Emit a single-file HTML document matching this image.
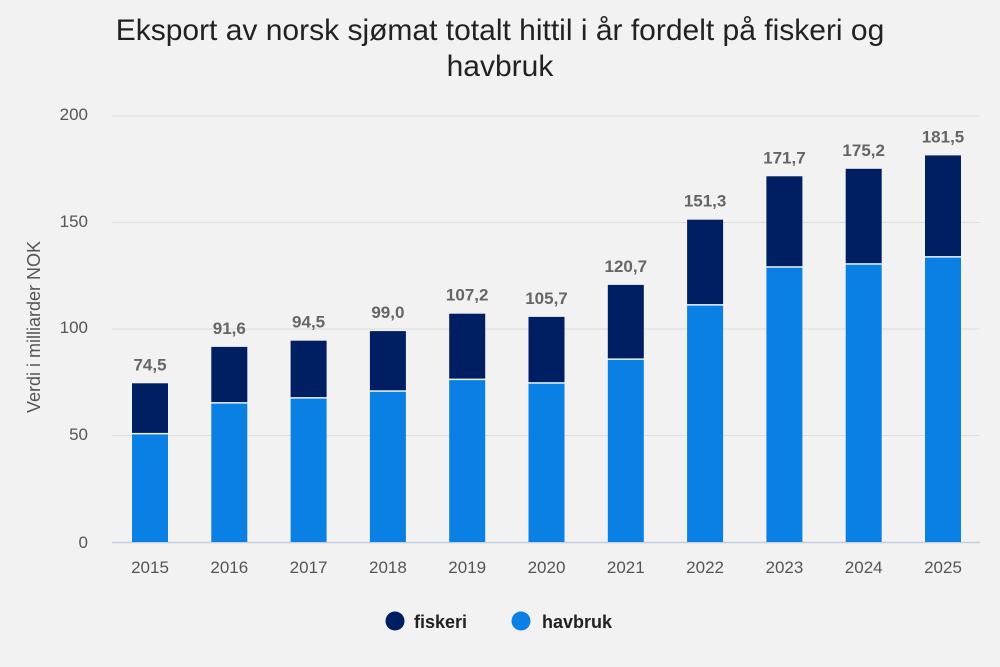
<!DOCTYPE html>
<html><head><style>body{margin:0;background:#f1f2f1;}svg{display:block}</style></head>
<body>
<svg width="1000" height="667" viewBox="0 0 1000 667" xmlns="http://www.w3.org/2000/svg" font-family="Liberation Sans, Arial, sans-serif">
<rect width="1000" height="667" fill="#f1f2f1"/>
<text x="500" y="40" text-anchor="middle" font-size="30" fill="#222">Eksport av norsk sjømat totalt hittil i år fordelt på fiskeri og</text>
<text x="500" y="76" text-anchor="middle" font-size="30" fill="#222">havbruk</text>
<g stroke="#dcdedd" stroke-width="1">
<line x1="112" x2="980" y1="116" y2="116"/><line x1="112" x2="980" y1="222.5" y2="222.5"/><line x1="112" x2="980" y1="329" y2="329"/><line x1="112" x2="980" y1="435.5" y2="435.5"/>
</g>
<line x1="112" x2="980" y1="542.5" y2="542.5" stroke="#c5cde0" stroke-width="1.5"/>
<g font-size="17" fill="#555" text-anchor="end">
<text x="88" y="120">200</text><text x="88" y="227">150</text><text x="88" y="333">100</text><text x="88" y="440">50</text><text x="88" y="548">0</text>
</g>
<text transform="translate(40,327) rotate(-90)" text-anchor="middle" font-size="18" fill="#555">Verdi i milliarder NOK</text>
<g fill="#0a80e4">
<rect x="132" y="434.4" width="36" height="107.6"/>
<rect x="211.3" y="403.6" width="36" height="138.4"/>
<rect x="290.6" y="398.6" width="36" height="143.4"/>
<rect x="369.9" y="391.8" width="36" height="150.2"/>
<rect x="449.2" y="380.1" width="36" height="161.9"/>
<rect x="528.5" y="383.7" width="36" height="158.3"/>
<rect x="607.8" y="359.9" width="36" height="182.1"/>
<rect x="687.1" y="305.6" width="36" height="236.4"/>
<rect x="766.4" y="267.7" width="36" height="274.3"/>
<rect x="845.7" y="264.7" width="36" height="277.3"/>
<rect x="925" y="257.6" width="36" height="284.4"/>
</g>
<g fill="#001e62">
<rect x="132" y="383.3" width="36" height="49.6"/>
<rect x="211.3" y="346.9" width="36" height="55.2"/>
<rect x="290.6" y="340.7" width="36" height="56.4"/>
<rect x="369.9" y="331.1" width="36" height="59.2"/>
<rect x="449.2" y="313.7" width="36" height="64.9"/>
<rect x="528.5" y="316.9" width="36" height="65.3"/>
<rect x="607.8" y="284.9" width="36" height="73.5"/>
<rect x="687.1" y="219.7" width="36" height="84.4"/>
<rect x="766.4" y="176.3" width="36" height="89.9"/>
<rect x="845.7" y="168.8" width="36" height="94.4"/>
<rect x="925" y="155.4" width="36" height="100.7"/>
</g>
<g font-size="17" font-weight="bold" fill="#666" text-anchor="middle">
<text x="150" y="370.3">74,5</text>
<text x="229.3" y="333.9">91,6</text>
<text x="308.6" y="327.7">94,5</text>
<text x="387.9" y="318.1">99,0</text>
<text x="467.2" y="300.7">107,2</text>
<text x="546.5" y="303.9">105,7</text>
<text x="625.8" y="271.9">120,7</text>
<text x="705.1" y="206.7">151,3</text>
<text x="784.4" y="163.3">171,7</text>
<text x="863.7" y="155.8">175,2</text>
<text x="943" y="142.4">181,5</text>
</g>
<g font-size="17" fill="#555" text-anchor="middle">
<text x="150" y="573">2015</text><text x="229.3" y="573">2016</text><text x="308.6" y="573">2017</text><text x="387.9" y="573">2018</text><text x="467.2" y="573">2019</text><text x="546.5" y="573">2020</text><text x="625.8" y="573">2021</text><text x="705.1" y="573">2022</text><text x="784.4" y="573">2023</text><text x="863.7" y="573">2024</text><text x="943" y="573">2025</text>
</g>
<g font-size="18" font-weight="bold" fill="#222">
<circle cx="395" cy="621" r="9.5" fill="#001e62"/><text x="414" y="628">fiskeri</text>
<circle cx="521" cy="621" r="9.5" fill="#0a80e4"/><text x="542" y="628">havbruk</text>
</g>
</svg>
</body></html>
